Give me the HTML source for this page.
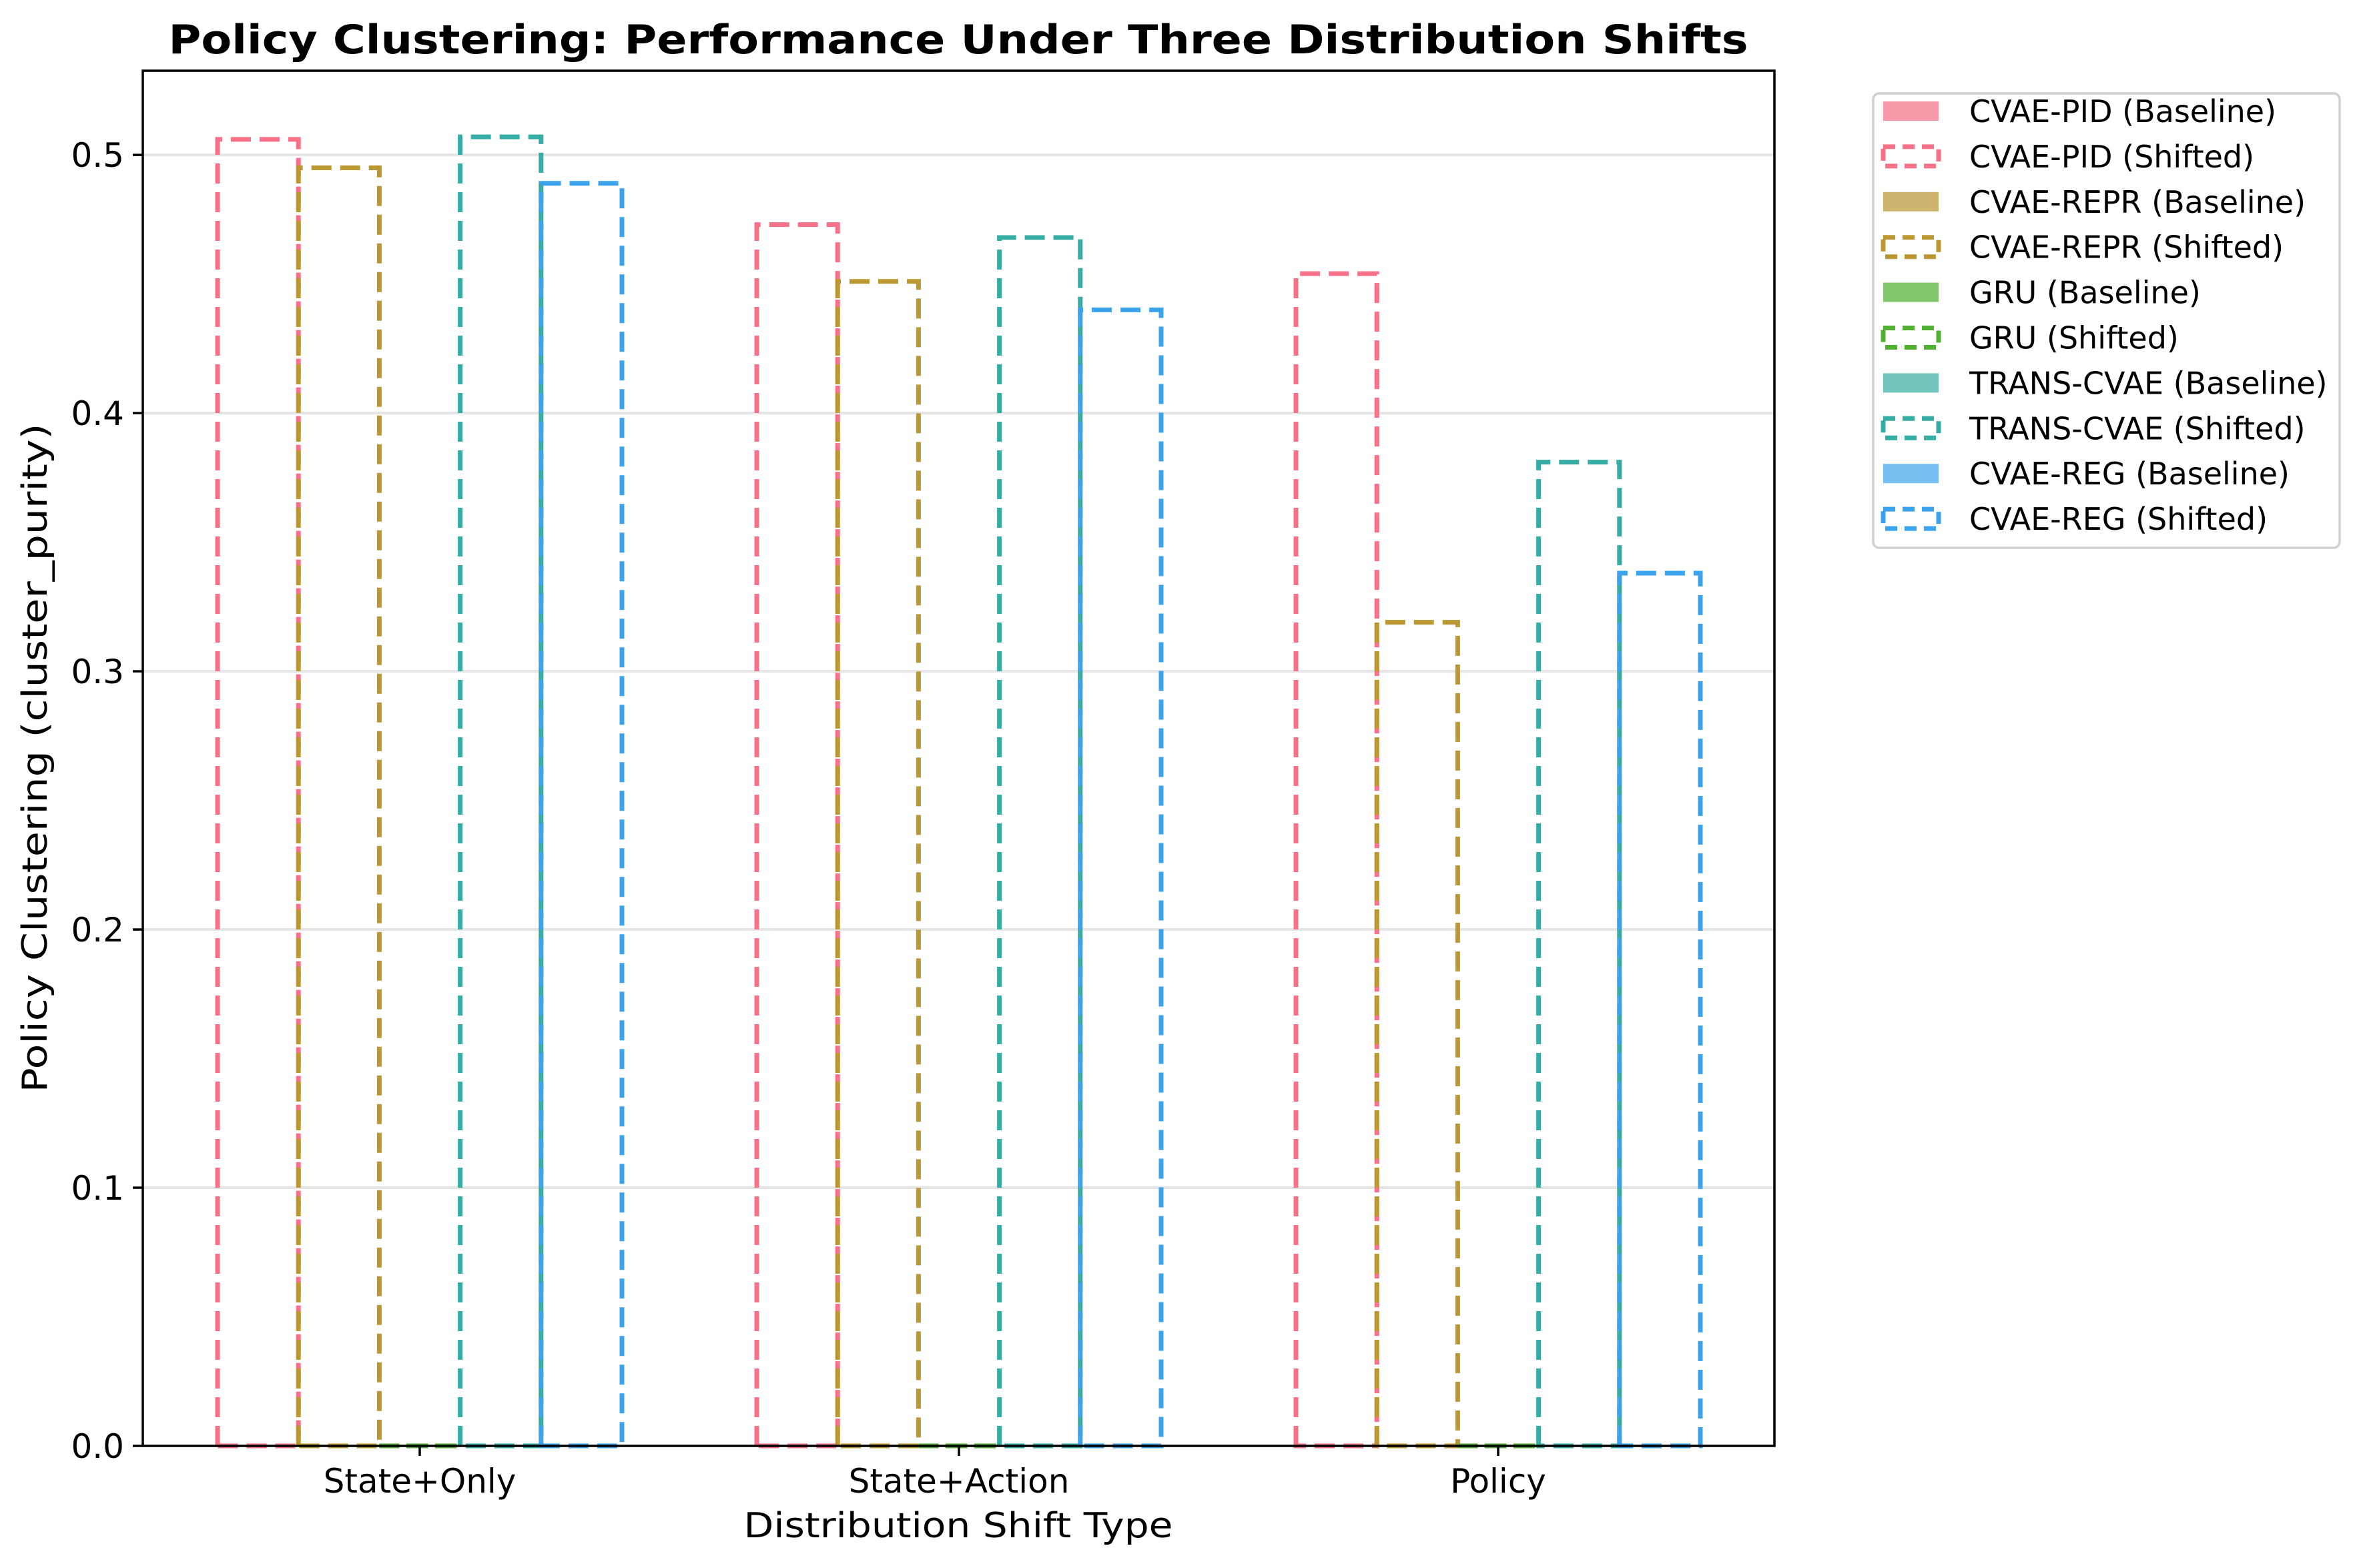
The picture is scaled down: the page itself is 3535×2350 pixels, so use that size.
<!DOCTYPE html>
<html><head><meta charset="utf-8"><style>
html,body{margin:0;padding:0;background:#fff;}
svg{display:block;font-family:"DejaVu Sans","Liberation Sans",sans-serif;}
</style></head><body>
<svg id="chart" width="3535" height="2350" viewBox="0 0 3535 2350" xmlns="http://www.w3.org/2000/svg">
<rect width="3535" height="2350" fill="#fff"/>
<text x="1436" y="80" text-anchor="middle" font-size="60" font-weight="bold" textLength="2367" lengthAdjust="spacingAndGlyphs">Policy Clustering: Performance Under Three Distribution Shifts</text>
<g id="grid"></g>
<g id="bars"></g>
<g id="axes"></g>
<text x="1436" y="2304" text-anchor="middle" font-size="52" textLength="643" lengthAdjust="spacingAndGlyphs">Distribution Shift Type</text>
<text transform="translate(70,1136) rotate(-90)" text-anchor="middle" font-size="52" textLength="1003" lengthAdjust="spacingAndGlyphs">Policy Clustering (cluster_purity)</text>
<g id="legend"></g>
</svg>
<script>
const categories = ["State+Only", "State+Action", "Policy"];
const models = ["CVAE-PID", "CVAE-REPR", "GRU", "TRANS-CVAE", "CVAE-REG"];
const colors = ["#f77189", "#bb9832", "#50b131", "#36ada4", "#3ba3ec"];
const fills = ["#f99aab", "#cfb46f", "#84c86e", "#72c4bd", "#76bdf0"];
const cvaePidShifted = [0.506, 0.473, 0.454];
const cvaeReprShifted = [0.495, 0.451, 0.319];
const gruShifted = [0.0, 0.0, 0.0];
const transCvaeShifted = [0.507, 0.468, 0.381];
const cvaeRegShifted = [0.489, 0.440, 0.338];
const cvaePidBaseline = [0, 0, 0];
const cvaeReprBaseline = [0, 0, 0];
const gruBaseline = [0, 0, 0];
const transCvaeBaseline = [0, 0, 0];
const cvaeRegBaseline = [0, 0, 0];
const yTicks = [0.0, 0.1, 0.2, 0.3, 0.4, 0.5];
const yTickLabels = ["0.0", "0.1", "0.2", "0.3", "0.4", "0.5"];

const shifted = [cvaePidShifted, cvaeReprShifted, gruShifted, transCvaeShifted, cvaeRegShifted];
const baseline = [cvaePidBaseline, cvaeReprBaseline, gruBaseline, transCvaeBaseline, cvaeRegBaseline];

const NS = "http://www.w3.org/2000/svg";
const L = 214, R = 2659, T = 106, B = 2167;
const yMax = 0.5326;
const ys = v => B - v / yMax * (B - T);
const x0 = 629, step = 808, bw = 0.15;
const xs = u => x0 + u * step;
function mk(tag, attrs, parent) {
  const e = document.createElementNS(NS, tag);
  for (const k in attrs) e.setAttribute(k, attrs[k]);
  parent.appendChild(e); return e;
}
const grid = document.getElementById('grid');
const bars = document.getElementById('bars');
const axes = document.getElementById('axes');
const legend = document.getElementById('legend');

yTicks.forEach((t, i) => {
  const y = ys(t);
  const g = mk('line', {x1: L, x2: R, y1: y, y2: y, stroke: '#e5e5e5', 'stroke-width': 4}, grid);
  
  
  const tk = mk('line', {x1: L - 15, x2: L, y1: y, y2: y, stroke: '#000', 'stroke-width': 3.5}, axes);
  
  
  const lb = mk('text', {x: L - 28, y: y + 18, 'text-anchor': 'end', 'font-size': 50}, axes);
  lb.textContent = yTickLabels[i];
  
  
});

categories.forEach((c, ci) => {
  models.forEach((m, mi) => {
    const left = xs(ci + (mi - 2.5) * bw);
    const w = xs(ci + (mi - 1.5) * bw) - left;
    const bv = baseline[mi][ci];
    const br = mk('rect', {x: left, y: ys(bv), width: w, height: B - ys(bv), fill: fills[mi]}, bars);
    
    
  });
  models.forEach((m, mi) => {
    const left = xs(ci + (mi - 2.5) * bw);
    const w = xs(ci + (mi - 1.5) * bw) - left;
    const sv = shifted[mi][ci];
    const top = ys(sv);
    const p = mk('path', {d: `M${left},${B} L${left},${top} L${left + w},${top} L${left + w},${B} Z`,
      fill: 'none', stroke: colors[mi], 'stroke-width': 7, 'stroke-dasharray': '30 13'}, bars);
    
    
  });
  const x = xs(ci);
  const tk = mk('line', {x1: x, x2: x, y1: B, y2: B + 15, stroke: '#000', 'stroke-width': 3.5}, axes);
  
  
  const lb = mk('text', {x: x, y: B + 70, 'text-anchor': 'middle', 'font-size': 50}, axes);
  lb.textContent = c;
  
  
});

const frame = mk('rect', {x: L, y: T, width: R - L, height: B - T, fill: 'none', stroke: '#000', 'stroke-width': 3.5}, axes);



const lbox = mk('rect', {x: 2807, y: 140, width: 699, height: 681, rx: 9, fill: '#fff', stroke: '#d0d0d0', 'stroke-width': 3.5}, legend);


let row = 0;
models.forEach((m, mi) => {
  ['Baseline', 'Shifted'].forEach(kind => {
    const cy = 167 + row * 67.9;
    let sw;
    if (kind === 'Baseline') {
      sw = mk('rect', {x: 2822, y: cy - 15, width: 83, height: 29, fill: fills[mi]}, legend);
    } else {
      sw = mk('rect', {x: 2822, y: cy - 15, width: 83, height: 29, fill: 'none', stroke: colors[mi], 'stroke-width': 7, 'stroke-dasharray': '18 11'}, legend);
    }
    
    
    const t = mk('text', {x: 2951, y: cy + 16, 'font-size': 46}, legend);
    t.textContent = m + ' (' + kind + ')';
    
    
    row++;
  });
});
</script>
</body></html>
